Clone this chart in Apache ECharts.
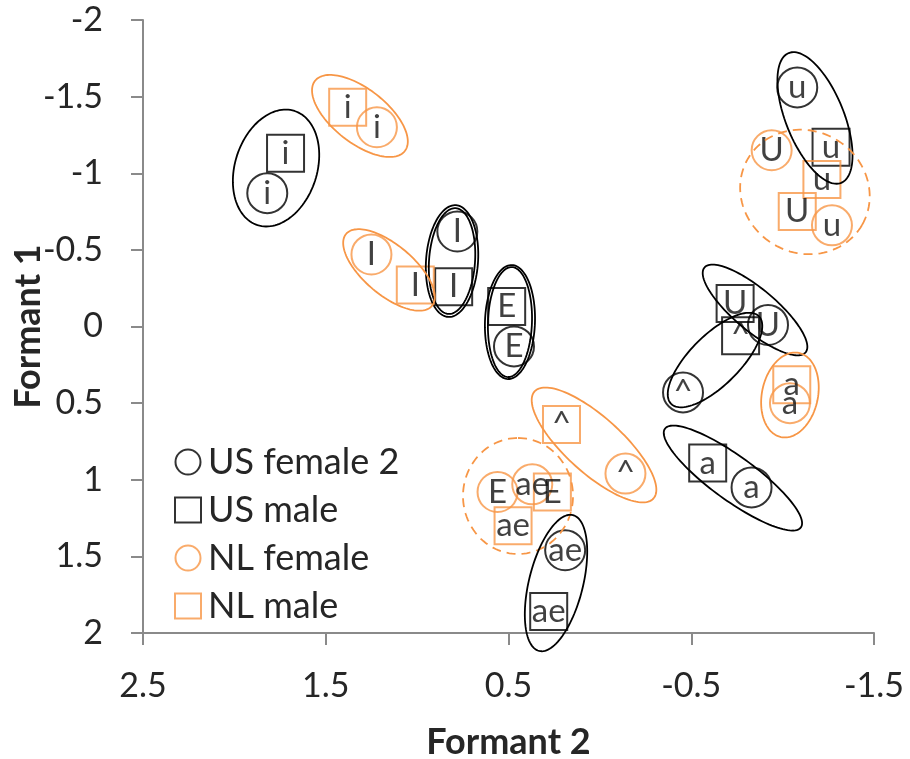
<!DOCTYPE html>
<html>
<head>
<meta charset="utf-8">
<script src="https://cdn.jsdelivr.net/npm/echarts@6/dist/echarts.min.js"></script>
<style>
html,body{margin:0;padding:0;background:#fff;}
#chart{width:910px;height:759px;}
</style>
</head>
<body>
<div id="chart"></div>
<script>
// ---- data ----
const vowels = ['i', 'I', 'E', 'ae', '^', 'a', 'U', 'u'];

const usFemaleF2 = [1.82, 0.78, 0.47, 0.19, -0.455, -0.83, -0.92, -1.08];
const usFemaleF1 = [-0.87, -0.62, 0.13, 1.46, 0.43, 1.05, -0.01, -1.56];

const usMaleF2 = [1.72, 0.80, 0.51, 0.28, -0.77, -0.59, -0.74, -1.265];
const usMaleF1 = [-1.13, -0.26, -0.13, 1.86, 0.06, 0.89, -0.15, -1.17];

const nlFemaleF2 = [1.22, 1.25, 0.56, 0.37, -0.14, -1.04, -0.94, -1.27];
const nlFemaleF1 = [-1.30, -0.47, 1.08, 1.03, 0.96, 0.50, -1.15, -0.66];

const nlMaleF2 = [1.38, 1.01, 0.26, 0.475, 0.21, -1.05, -1.08, -1.215];
const nlMaleF1 = [-1.43, -0.27, 1.08, 1.30, 0.64, 0.38, -0.75, -0.96];

const xTicks = [2.5, 1.5, 0.5, -0.5, -1.5];
const yTicks = [-2, -1.5, -1, -0.5, 0, 0.5, 1, 1.5, 2];

// grouping ellipses: centre (F2, F1)
const ellipseF2 = [1.772, 1.313, 0.809, 0.809, 1.154, 0.492, 0.492, -1.177, -1.122, -0.849, -0.63, -1.04, -0.728, 0.032, 0.448, 0.24];
const ellipseF1 = [-1.034, -1.374, -0.427, -0.427, -0.369, -0.029, -0.029, -1.361, -0.878, -0.108, 0.219, 0.447, 0.989, 0.773, 1.106, 1.674];

// ---- presentation ----
const BLACK = '#000';
const ORANGE = '#F79646';
const FONT = 'Lato';
// ellipse shape: semi-axes (px), tilt (deg, counter-clockwise), colour, dashed
const ellipseShape = [
  [60, 41, 72, BLACK, false],
  [57, 27, -38, ORANGE, false],
  [56, 26, 86, BLACK, false],
  [53, 23, 86, BLACK, false],
  [56, 25, -40, ORANGE, false],
  [57, 25, 88, BLACK, false],
  [55, 22, 88, BLACK, false],
  [70, 29, -68, BLACK, false],
  [66, 61, -30, ORANGE, true],
  [66, 21, -40, BLACK, false],
  [62, 25, 45, BLACK, false],
  [43, 28, 78, ORANGE, false],
  [84, 22, -36, BLACK, false],
  [80, 28, -42, ORANGE, false],
  [58, 55, 90, ORANGE, true],
  [70, 27, 76, BLACK, false]
];

function zip(xs, ys) {
  return xs.map((x, i) => [x, ys[i], vowels[i]]);
}

const labelStyle = {
  show: true,
  position: 'inside',
  formatter: p => p.value[2],
  fontFamily: FONT,
  fontSize: 33,
  color: '#111'
};

function scatter(name, xs, ys, symbol, size, color) {
  return {
    name: name,
    type: 'scatter',
    symbol: symbol,
    symbolSize: size,
    data: zip(xs, ys),
    itemStyle: { color: 'rgba(0,0,0,0)', borderColor: color, borderWidth: 2 },
    label: labelStyle,
    emphasis: { disabled: true },
    z: 3
  };
}

const chart = echarts.init(document.getElementById('chart'), null, { renderer: 'canvas' });

const axisGray = '#8a8a8a';
const textColor = '#262626';

const option = {
  animation: false,
  backgroundColor: '#fff',
  textStyle: { fontFamily: FONT },
  grid: { left: 143, right: 36, top: 20, bottom: 126, containLabel: false, outerBoundsMode: 'none' },
  legend: {
    data: ['US female 2', 'US male', 'NL female', 'NL male'],
    orient: 'vertical',
    left: 169,
    top: 439,
    itemWidth: 26,
    itemHeight: 25,
    itemGap: 12,
    selectedMode: false,
    textStyle: { fontFamily: FONT, fontSize: 36, color: textColor, padding: [0, 0, 0, 2] }
  },
  xAxis: {
    type: 'value',
    inverse: true,
    min: -1.5,
    max: 2.5,
    interval: 1,
    name: 'Formant 2',
    nameLocation: 'middle',
    nameGap: 91,
    nameTextStyle: { fontFamily: FONT, fontSize: 36, fontWeight: 'bold', color: textColor },
    axisLine: { show: true, onZero: false, lineStyle: { color: axisGray, width: 2 } },
    axisTick: { show: true, length: 12, inside: false, lineStyle: { color: axisGray, width: 2 } },
    splitLine: { show: false },
    axisLabel: {
      margin: 36, fontFamily: FONT, fontSize: 34, color: textColor,
      formatter: v => String(v)
    }
  },
  yAxis: {
    type: 'value',
    inverse: true,
    min: -2,
    max: 2,
    interval: 0.5,
    name: 'Formant 1',
    nameLocation: 'middle',
    nameGap: 97,
    nameMoveOverlap: false,
    nameRotate: 90,
    nameTextStyle: { fontFamily: FONT, fontSize: 36, fontWeight: 'bold', color: textColor },
    axisLine: { show: true, onZero: false, lineStyle: { color: axisGray, width: 2 } },
    axisTick: { show: true, length: 12, inside: false, lineStyle: { color: axisGray, width: 2 } },
    splitLine: { show: false },
    axisLabel: {
      margin: 40, fontFamily: FONT, fontSize: 34, color: textColor,
      formatter: v => String(v)
    }
  },
  series: [
    scatter('US female 2', usFemaleF2, usFemaleF1, 'circle', 40, BLACK),
    scatter('US male', usMaleF2, usMaleF1, 'rect', 37, BLACK),
    scatter('NL female', nlFemaleF2, nlFemaleF1, 'circle', 40, ORANGE),
    scatter('NL male', nlMaleF2, nlMaleF1, 'rect', 37, ORANGE),
    {
      name: 'groups',
      type: 'custom',
      coordinateSystem: 'cartesian2d',
      silent: true,
      z: 4,
      data: ellipseF2.map((x, i) => [x, ellipseF1[i]]),
      encode: { x: 0, y: 1 },
      renderItem: function (params, api) {
        const c = api.coord([api.value(0), api.value(1)]);
        const s = ellipseShape[params.dataIndex];
        const A = s[0], B = s[1], a = s[2] * Math.PI / 180;
        const ux = Math.cos(a), uy = -Math.sin(a);
        const vx = Math.sin(a), vy = Math.cos(a);
        const pts = [];
        const N = 120;
        for (let k = 0; k < N; k++) {
          const t = 2 * Math.PI * k / N;
          pts.push([
            c[0] + A * Math.cos(t) * ux + B * Math.sin(t) * vx,
            c[1] + A * Math.cos(t) * uy + B * Math.sin(t) * vy
          ]);
        }
        return {
          type: 'polygon',
          shape: { points: pts },
          style: {
            fill: 'none',
            stroke: s[3],
            lineWidth: 1.8,
            lineDash: s[4] ? [9, 6] : null
          }
        };
      }
    }
  ]
};

chart.setOption(option);
</script>
</body>
</html>
